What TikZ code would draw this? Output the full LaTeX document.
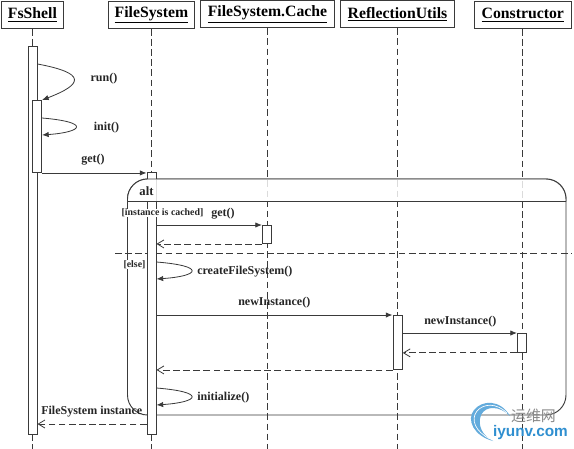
\documentclass[tikz,border=0pt]{standalone}
\usepackage{fontspec}
\setmainfont{Liberation Serif}
\newfontfamily\cjkwm{Noto Sans CJK SC}
\newfontfamily\sanswm{Liberation Sans}
\usetikzlibrary{arrows.meta,calc}
\definecolor{ln}{HTML}{3A3A3A}
\definecolor{wmblue}{HTML}{2F8FD0}
\definecolor{wmgrey}{HTML}{8A8A8A}
\tikzset{
  headbox/.style={draw=ln,line width=0.7pt,fill=white,anchor=north west,inner sep=0pt,font=\fontsize{11.8}{12}\bfseries},
  act/.style={draw=ln,line width=0.7pt,fill=white,anchor=north west,inner sep=0pt},
  life/.style={draw=ln,line width=0.75pt,dash pattern=on 5pt off 2.6pt},
  msg/.style={draw=ln,line width=0.6pt,-{Latex[length=5pt,width=4pt]}},
  ret/.style={draw=ln,line width=0.6pt,dash pattern=on 5pt off 2.6pt,-{Straight Barb[length=5pt,width=6pt]}},
  lbl/.style={inner sep=0pt,font=\fontsize{9}{10}\bfseries,text=black!85},
  guard/.style={inner sep=0pt,font=\fontsize{7.4}{8}\bfseries,text=black!85},
}
\begin{document}
\begin{tikzpicture}[x=0.75pt,y=-0.75pt]
\useasboundingbox (0,0) rectangle (574,449);
\fill[white] (0,0) rectangle (574,449);
% head boxes
\node[headbox,minimum width=46.5pt,minimum height=20.2pt] (hFs) at (1,1) {\underline{FsShell}};
\node[headbox,minimum width=65.2pt,minimum height=20.2pt] (hFy) at (107.5,1) {\underline{FileSystem}};
\node[headbox,minimum width=100.5pt,minimum height=20.2pt] (hCa) at (200,0.5) {\underline{FileSystem.Cache}};
\node[headbox,minimum width=85.5pt,minimum height=20.2pt] (hRe) at (340,0.5) {\underline{ReflectionUtils}};
\node[headbox,minimum width=72.5pt,minimum height=20.2pt] (hCo) at (474,1) {\underline{Constructor}};
% life line ends
\coordinate (eFs) at (32,449);
\coordinate (eFy) at (151,449);
\coordinate (eCa) at (267,449);
\coordinate (eRe) at (397,449);
\coordinate (eCo) at (522,449);
\draw[life] (hFs.south -| eFs) -- (eFs);
\draw[life] (hFy.south -| eFy) -- (eFy);
\draw[life] (hCa.south -| eCa) -- (eCa);
\draw[life] (hRe.south -| eRe) -- (eRe);
\draw[life] (hCo.south -| eCo) -- (eCo);
% alt frame
\coordinate (fTL) at (127.5,179);
\coordinate (fBR) at (566,415);
\coordinate (fML) at (127.5,201.5);
\coordinate (fMR) at (566,201.5);
\draw[ln,line width=0.7pt,rounded corners=15pt] (fTL) rectangle (fBR);
\coordinate (dL) at (115,253);
\coordinate (dR) at (572,253);
\draw[life] (dL) -- (dR);
% activations
\node[act,minimum width=6.8pt,minimum height=291pt] (aFs) at (27.5,46) {};
\node[act,minimum width=6.8pt,minimum height=54pt] (aFi) at (32,100) {};
\node[act,minimum width=6.8pt,minimum height=196.5pt] (aFy) at (146.5,172) {};
\node[act,minimum width=7pt,minimum height=13.5pt] (aCa) at (262,225) {};
\node[act,minimum width=7pt,minimum height=40.5pt] (aRe) at (392.5,315) {};
\node[act,minimum width=7pt,minimum height=14.2pt] (aCo) at (517,333) {};
% alt header compartment lies over the bars and life lines
\path[fill=white,fill opacity=0.82,rounded corners=15pt] (fML) -- (fTL) -- (566,179) -- (fMR);
\fill[white] (128,201) -- (128,196) .. controls (130,187) and (137,180) .. (146,179.4) -- (156,179.4) -- (156,201) -- cycle;
\draw[ln,line width=0.7pt,rounded corners=15pt] (fML) -- (fTL) -- (566,179) -- (fMR);
\draw[ln,line width=0.9pt] (fML) -- (fMR);
% self messages
\draw[msg] (aFs.east |- 0,64) .. controls (86,73) and (84,84) .. (aFi.north east);
\draw[msg] (aFi.east |- 0,118) .. controls (90,122) and (84,132) .. (aFi.east |- 0,135);
\draw[msg] (aFy.east |- 0,262) .. controls (206,266) and (200,276) .. (aFy.east |- 0,279);
\draw[msg] (aFy.east |- 0,388) .. controls (206,392) and (200,402) .. (aFy.east |- 0,405);
% messages
\draw[msg] (aFi.south east) -- (aFy.west |- aFi.south);
\draw[msg] (aFy.east |- aCa.north) -- (aCa.north west);
\draw[ret] (aCa.south west) -- (aFy.east |- aCa.south);
\draw[msg] (aFy.east |- aRe.north) -- (aRe.north west);
\draw[msg] (aRe.east |- aCo.north) -- (aCo.north west);
\draw[ret] (aCo.south west) -- (aRe.east |- aCo.south);
\draw[ret] (aRe.south west) -- (aFy.east |- aRe.south);
\coordinate (rY) at (0,424);
\draw[ret] (aFy.west |- rY) -- (aFs.east |- rY);
% labels
\node[lbl,anchor=center] (l1) at (104,79) {run()};
\node[lbl,anchor=center] (l2) at (106.5,128) {init()};
\node[lbl,anchor=center] (l3) at (93,160) {get()};
\node[lbl,anchor=center,font=\fontsize{9.5}{10}\bfseries] (l4) at (146.5,191) {alt};
\node[guard,anchor=center,fill=white,inner xsep=1pt] (l5) at (162.5,213) {[instance is cached]};
\node[lbl,anchor=center] (l6) at (223,213.5) {get()};
\node[guard,anchor=center,fill=white,inner xsep=1pt] (l7) at (134.5,264.5) {[else]};
\node[lbl,anchor=west] (l8) at (197,271.5) {createFileSystem()};
\node[lbl,anchor=west] (l9) at (238,303) {newInstance()};
\node[lbl,anchor=west] (l10) at (424,321.5) {newInstance()};
\node[lbl,anchor=west] (l11) at (197,397.5) {initialize()};
\node[lbl,anchor=west] (l12) at (41,411.5) {FileSystem instance};
% watermark
\fill[wmblue!75] (493,441) .. controls (474,436) and (466,420) .. (474,410) .. controls (482,400) and (500,399) .. (510,416) .. controls (500,406) and (486,405) .. (481,415) .. controls (477,426) and (483,436) .. (493,441) -- cycle;
\draw[white,line width=0.5pt] (490,439) .. controls (476,432) and (470,420) .. (477,411) .. controls (484,403) and (497,403) .. (507,413);
\node[inner sep=0pt,text=wmgrey,font=\cjkwm\fontsize{11.2}{12}\selectfont] (w1) at (533.5,415.5) {运维网};
\node[inner sep=0pt,text=wmblue,font=\sanswm\bfseries\fontsize{11.5}{12}\selectfont] (w2) at (530.5,433) {iyunv.com};
\end{tikzpicture}
\end{document}
